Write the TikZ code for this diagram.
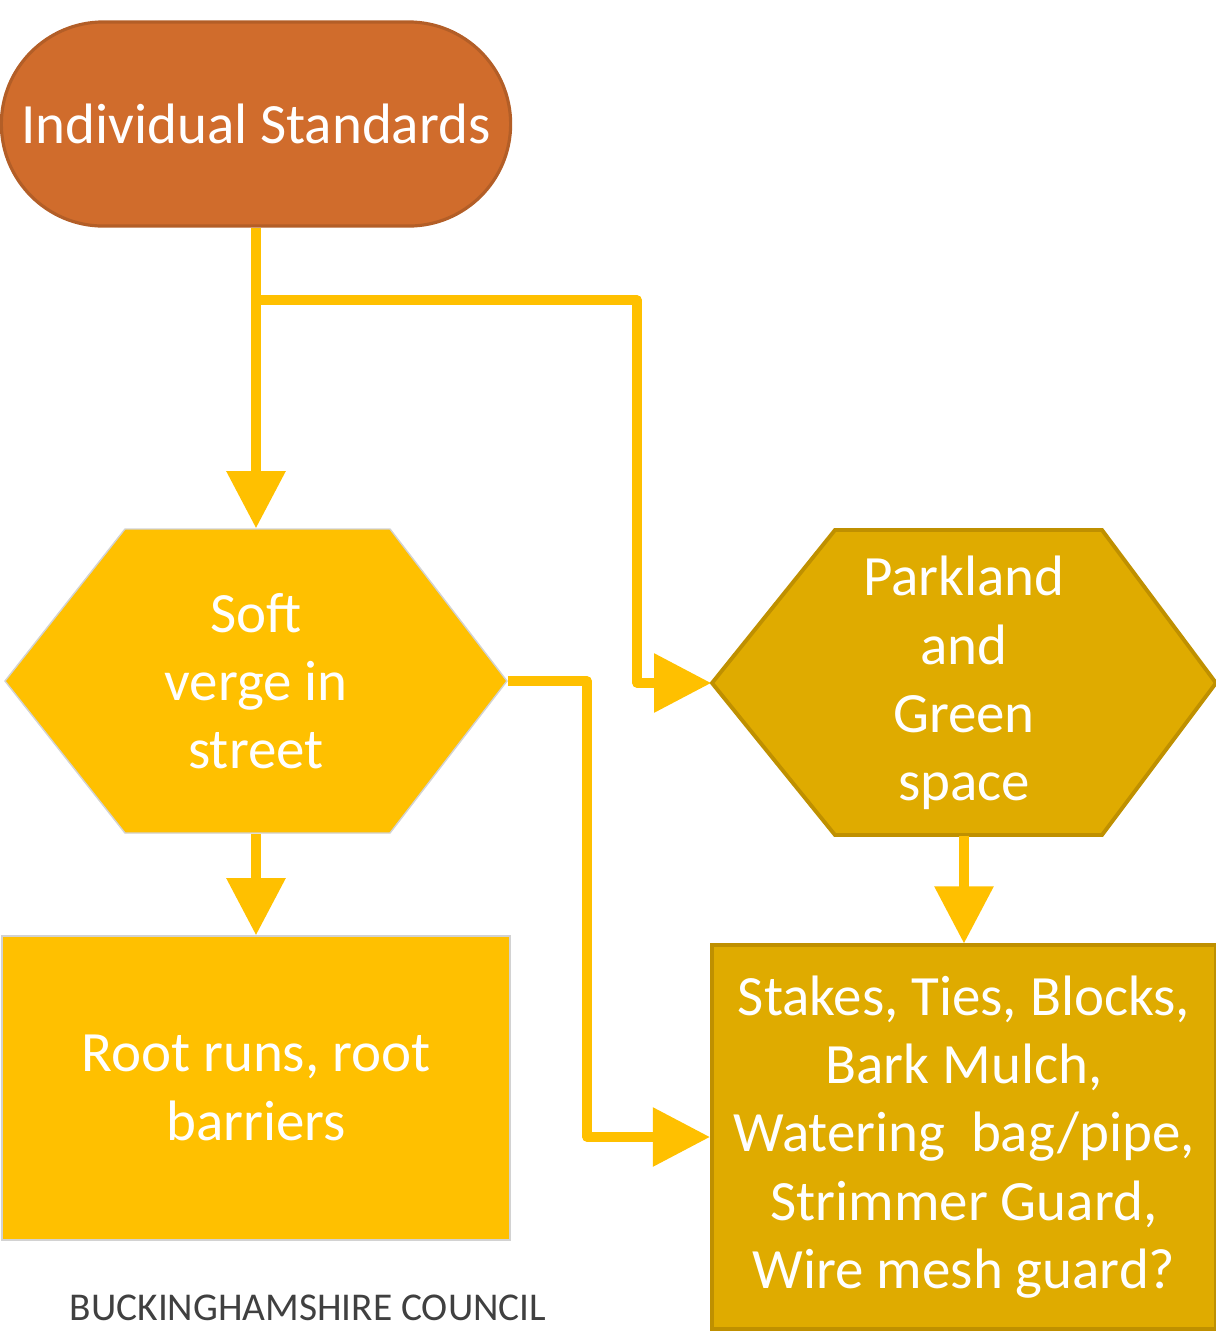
\documentclass[tikz,border=0pt]{standalone}
\usepackage{fontspec}
\setmainfont{Carlito}
\usepackage{tikz}
\usetikzlibrary{arrows.meta,positioning,calc}
\definecolor{termorange}{HTML}{D06C2C}
\definecolor{termedge}{HTML}{B35E27}
\definecolor{softyellow}{HTML}{FFC000}
\definecolor{parkgold}{HTML}{DFAB00}
\definecolor{parkedge}{HTML}{BF9000}
\definecolor{creditgrey}{HTML}{404040}
\tikzstyle{flow} = [draw=softyellow,line width=2.6pt,line join=round,-{Triangle[length=0.57cm,width=0.57cm]}]
\tikzstyle{boxtext} = [text=white,align=center,inner sep=0pt,font=\fontsize{16.2}{19.4}\selectfont]

\begin{document}
\begin{tikzpicture}[x=0.01cm,y=-0.01cm]
    \useasboundingbox (0,0) rectangle (1216,1332);
    % the two hexagons are drawn first, their text nodes sit on top
    \filldraw[fill=softyellow,draw=gray!35,line width=0.4pt]
        (5,681) -- (125,529) -- (390,529) -- (507,681) -- (390,833) -- (125,833) -- cycle;
    \filldraw[fill=parkgold,draw=parkedge,line width=1.1pt]
        (712,683) -- (835,530) -- (1102,530) -- (1216,683) -- (1102,835) -- (835,835) -- cycle;

    \node[boxtext,fill=termorange,draw=termedge,line width=0.9pt,rounded corners=1.02cm,
          minimum width=5.09cm,minimum height=2.04cm] (term) at (256,124) {Individual Standards};
    \node[boxtext,minimum width=5.02cm,minimum height=3.04cm] (soft) at (256,681) {Soft\\verge in\\street};
    \node[boxtext,minimum width=5.04cm,minimum height=3.04cm] (park) at (964,683) {Parkland\\and\\Green\\space};
    \node[boxtext,fill=softyellow,draw=gray!35,line width=0.4pt,
          minimum width=5.08cm,minimum height=3.04cm] (roots) at (256,1088) {Root runs, root\\barriers};
    \node[boxtext,fill=parkgold,draw=parkedge,line width=1.1pt,
          minimum width=5.04cm,minimum height=3.83cm] (stakes) at (964,1137) {Stakes, Ties, Blocks,\\Bark Mulch,\\Watering\ \ bag/pipe,\\Strimmer Guard,\\Wire mesh guard?};
    \node[text=creditgrey,inner sep=0pt,font=\fontsize{11.2}{13}\selectfont] (council) at (308,1308) {BUCKINGHAMSHIRE COUNCIL};

    \coordinate (split) at (637,300);
    \coordinate (drop)  at (587,1137);

    \draw[flow] (term.south) -- (soft.north);
    \draw[flow] (term.south) |- (split) |- (park.west);
    \draw[flow] (soft.east) -| (drop) -- (stakes.west);
    \draw[flow] (soft.south) -- (roots.north);
    \draw[flow] (park.south) -- (stakes.north);
\end{tikzpicture}
\end{document}
